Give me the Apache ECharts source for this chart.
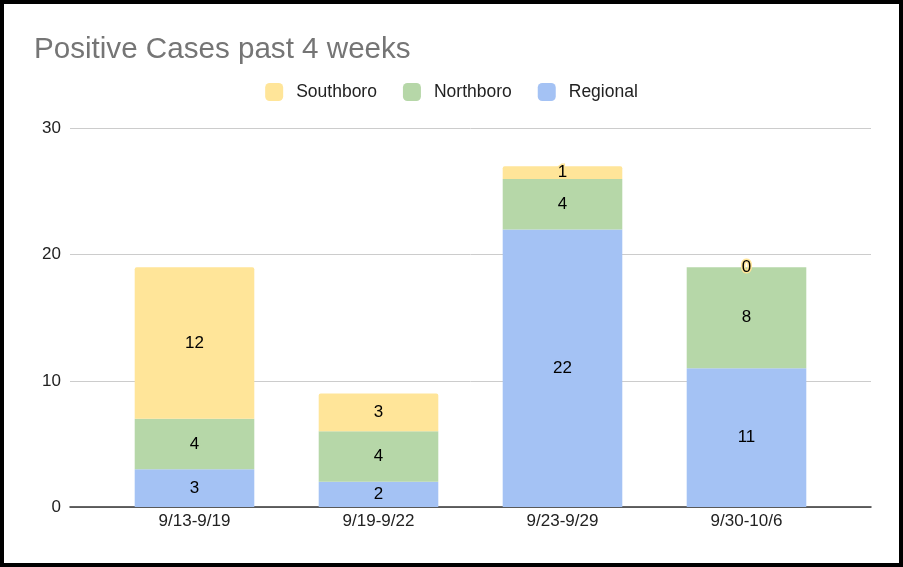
<!DOCTYPE html>
<html>
<head>
<meta charset="utf-8">
<script src="https://cdn.jsdelivr.net/npm/echarts@6/dist/echarts.min.js"></script>
<style>
  html, body { margin: 0; padding: 0; background: #fff; }
  #chart { position: absolute; left: 0; top: 0; width: 903px; height: 567px; }
  #frame { position: absolute; left: 0; top: 0; width: 903px; height: 567px; box-sizing: border-box; border: 4px solid #000; pointer-events: none; z-index: 10; }
</style>
</head>
<body>
<div id="chart"></div>
<div id="frame"></div>
<script>
const titleText = 'Positive Cases past 4 weeks';
const categories = ['9/13-9/19', '9/19-9/22', '9/23-9/29', '9/30-10/6'];
const regional = [3, 2, 22, 11];
const northboro = [4, 4, 4, 8];
const southboro = [12, 3, 1, 0];
const yTicks = [0, 10, 20, 30];

const FONT = 'Arial, "Liberation Sans", sans-serif';
const colors = { Southboro: '#ffe599', Northboro: '#b6d7a8', Regional: '#a4c2f4' };

function labelOpt(border) {
  return {
    show: true, position: 'inside', color: '#000', fontSize: 17, fontFamily: FONT,
    textBorderColor: border, textBorderWidth: 3
  };
}

const chart = echarts.init(document.getElementById('chart'));
chart.setOption({
  animation: false,
  title: {
    text: titleText, left: 29, top: 30,
    textStyle: { fontSize: 29.6, fontWeight: 'normal', color: '#757575', fontFamily: FONT }
  },
  legend: {
    data: ['Southboro', 'Northboro', 'Regional'],
    top: 78, left: 'center', itemWidth: 18, itemHeight: 18, itemGap: 26,
    icon: 'roundRect',
    textStyle: { fontSize: 17.5, color: '#222', fontFamily: FONT, padding: [0, 0, 0, 8] }
  },
  grid: [
    { left: 102.5, right: 64.5, top: 128.5, bottom: 60 },
    { left: 70, right: 32, top: 128.5, bottom: 60 }
  ],
  xAxis: [
    {
      type: 'category', gridIndex: 0, data: categories,
      axisLine: { show: false }, axisTick: { show: false },
      axisLabel: { fontSize: 17, color: '#222', fontFamily: FONT, margin: 6 }
    },
    {
      type: 'value', gridIndex: 1, min: 0, max: 1,
      axisLine: { show: true, lineStyle: { color: '#333', width: 1.5 } },
      axisTick: { show: false }, axisLabel: { show: false }, splitLine: { show: false }
    }
  ],
  yAxis: [
    { type: 'value', gridIndex: 0, min: yTicks[0], max: yTicks[yTicks.length - 1], interval: 10, show: false },
    {
      type: 'value', gridIndex: 1, min: yTicks[0], max: yTicks[yTicks.length - 1], interval: 10, z: 0,
      axisLine: { show: false }, axisTick: { show: false },
      axisLabel: { fontSize: 17, color: '#222', fontFamily: FONT, margin: 9 },
      splitLine: { lineStyle: { color: '#cccccc', width: 1 } }
    }
  ],
  series: [
    {
      name: 'Regional', type: 'bar', stack: 's', data: regional, barWidth: '65%',
      itemStyle: { color: colors.Regional }, label: labelOpt(colors.Regional), z: 3
    },
    {
      name: 'Northboro', type: 'bar', stack: 's', data: northboro, barWidth: '65%',
      itemStyle: { color: colors.Northboro }, label: labelOpt(colors.Northboro), z: 3
    },
    {
      name: 'Southboro', type: 'bar', stack: 's', data: southboro, barWidth: '65%',
      itemStyle: { color: colors.Southboro, borderRadius: [2, 2, 0, 0] }, label: labelOpt(colors.Southboro), z: 3
    }
  ]
});
</script>
</body>
</html>
